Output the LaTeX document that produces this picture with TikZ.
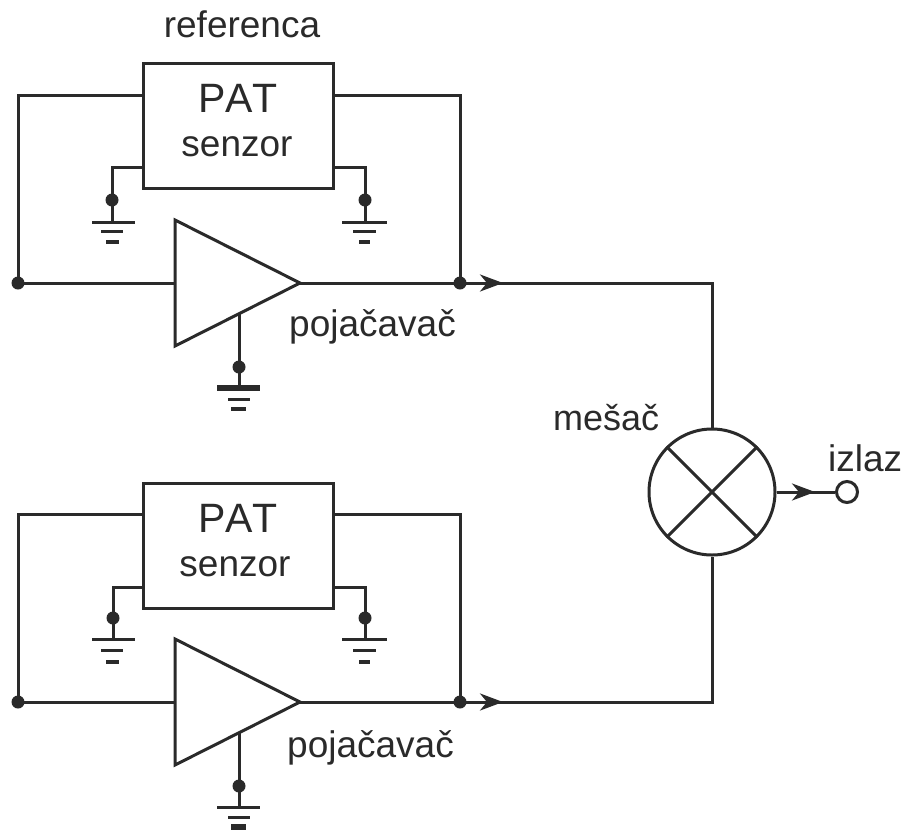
\documentclass[tikz,border=0pt]{standalone}
\usepackage{fontspec}
\setmainfont{Liberation Sans}
\usetikzlibrary{arrows.meta,calc}
\definecolor{ink}{HTML}{2A2A2A}
\tikzset{
  wire/.style={line width=3pt,draw=ink,line join=miter},
  boxn/.style={wire,rectangle,inner sep=0pt,minimum width=190pt,minimum height=125pt},
  dotn/.style={circle,fill=ink,inner sep=0pt,minimum size=13pt},
  lab/.style={anchor=base,inner sep=0pt,text=ink,font=\fontsize{37}{40}\selectfont},
  labl/.style={lab,anchor=base west},
  patlab/.style={lab,font=\fontsize{41}{44}\selectfont\addfontfeature{Kerning=Off}},
  flow/.style={wire,-{Stealth[length=23pt,width=17pt,inset=7pt]}},
  gb/.style={line width=3pt,draw=ink},
}
\begin{document}
\begin{tikzpicture}[x=1pt,y=-1pt]
\useasboundingbox (0,0) rectangle (904,830);
\fill[white] (0,0) rectangle (904,830);

% upper channel
\node[boxn] (box1) at (238,126) {};
\node[patlab] (pat1) at (238,112) {PAT};
\node[lab] (sen1) at (237,156) {senzor};
\node[lab] (ref) at (242,37) {referenca};
\coordinate (t1a) at (175,220);
\coordinate (t1b) at (175,346);
\coordinate (t1c) at (300,283);
\draw[wire] (t1a) -- (t1c) -- (t1b) -- cycle;
\node[dotn] (jl1) at (18,283) {};
\node[dotn] (jr1) at (460,283) {};
\coordinate (in1) at (175,283);
\coordinate (b1l) at (143,95);
\coordinate (b1r) at (333,95);
\coordinate (b1gl) at (143,167);
\coordinate (b1gr) at (333,167);
\draw[wire] (jl1.center) |- (b1l);
\draw[wire] (jr1.center) |- (b1r);
\draw[wire] (jl1.center) -- (in1);
\draw[wire] (t1c) -- (jr1.center);
\coordinate (a1) at (503,283);
\coordinate (am1) at (239,314);
\node[dotn] (g1l) at (112,200) {};
\node[dotn] (g1r) at (365,200) {};
\node[dotn] (g1a) at (239,367) {};
\draw[wire] (b1gl) -| (g1l.center);
\draw[wire] (b1gr) -| (g1r.center);
\draw[wire] (g1l.center) -- (112,222);
\draw[wire] (g1r.center) -- (365,222);
\draw[wire] (am1) -- (g1a.center) -- (239,388);
\draw[gb] (92,222) -- (135,222) (101,231) -- (123,231);
\draw[line width=4pt,draw=ink] (106,242) -- (119,242);
\draw[gb] (342,222) -- (387,222) (353,231) -- (376,231);
\draw[line width=4pt,draw=ink] (359,242) -- (370,242);
\draw[line width=6pt,draw=ink] (217,388) -- (260,388);
\draw[gb] (228,399) -- (250,399);
\draw[line width=4pt,draw=ink] (231,409) -- (246,409);
\node[labl] (amp1) at (289,336) {pojačavač};

% lower channel
\node[boxn] (box2) at (238,545.5) {};
\node[patlab] (pat2) at (238,532) {PAT};
\node[lab] (sen2) at (235,576) {senzor};
\coordinate (t2a) at (175,639);
\coordinate (t2b) at (175,765);
\coordinate (t2c) at (300,702);
\draw[wire] (t2a) -- (t2c) -- (t2b) -- cycle;
\node[dotn] (jl2) at (18,702) {};
\node[dotn] (jr2) at (460,702) {};
\coordinate (in2) at (175,702);
\coordinate (b2l) at (143,514);
\coordinate (b2r) at (333,514);
\coordinate (b2gl) at (143,587);
\coordinate (b2gr) at (333,587);
\draw[wire] (jl2.center) |- (b2l);
\draw[wire] (jr2.center) |- (b2r);
\draw[wire] (jl2.center) -- (in2);
\draw[wire] (t2c) -- (jr2.center);
\coordinate (a2) at (503,702);
\coordinate (am2) at (239,733);
\node[dotn] (g2l) at (113,618) {};
\node[dotn] (g2r) at (365,618) {};
\node[dotn] (g2a) at (239,786) {};
\draw[wire] (b2gl) -| (g2l.center);
\draw[wire] (b2gr) -| (g2r.center);
\draw[wire] (g2l.center) -- (113,639);
\draw[wire] (g2r.center) -- (365,639);
\draw[wire] (am2) -- (g2a.center) -- (239,807);
\draw[gb] (92,639) -- (135,639) (101,650) -- (123,650);
\draw[line width=4pt,draw=ink] (106,662) -- (119,662);
\draw[gb] (342,639) -- (387,639) (353,650) -- (376,650);
\draw[line width=4pt,draw=ink] (359,662) -- (370,662);
\draw[gb] (217,807) -- (260,807) (228,817) -- (250,817);
\fill[ink] (231,824) rectangle (246,830);
\node[labl] (amp2) at (287,757) {pojačavač};

% mixer
\node[wire,circle,inner sep=0pt,minimum size=126pt] (mix) at (712,492) {};
\draw[wire] (mix.north west) -- (mix.south east);
\draw[wire] (mix.north east) -- (mix.south west);
\draw[wire] (jr1.center) -| (mix.north);
\draw[flow] (jr1.center) -- (a1);
\draw[wire] (jr2.center) -| (mix.south);
\draw[flow] (jr2.center) -- (a2);
\node[wire,circle,inner sep=0pt,minimum size=21pt] (out) at (847,492) {};
\coordinate (a3) at (815,492);
\draw[wire] (mix.east) -- (out.west);
\draw[flow] (mix.east) -- (a3);
\node[labl,font=\fontsize{36}{40}\selectfont] (mesac) at (553,430) {mešač};
\node[labl] (izlaz) at (828,471) {izlaz};
\end{tikzpicture}
\end{document}
